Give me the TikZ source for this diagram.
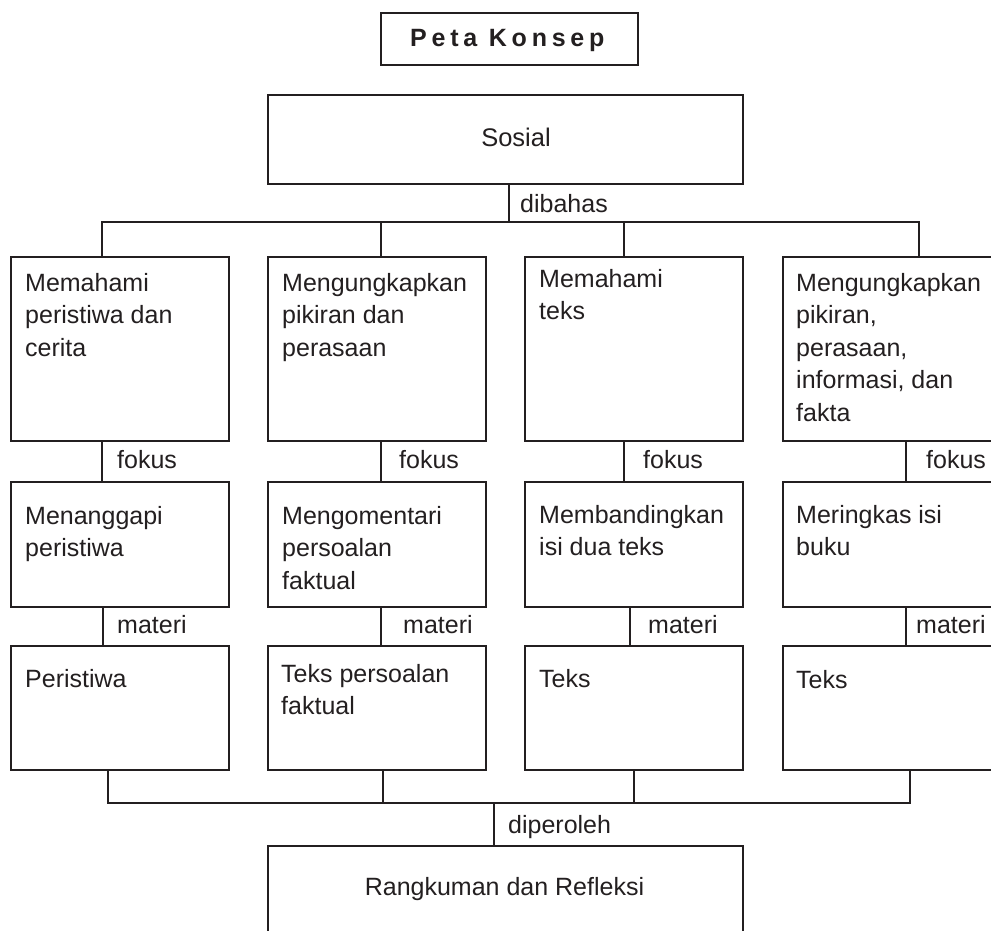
\documentclass[tikz,border=0pt]{standalone}
\usepackage{fontspec}
\setmainfont{Liberation Sans}
\newfontfamily\titlefont[LetterSpace=19]{Liberation Sans}
\usetikzlibrary{calc}
\definecolor{ink}{HTML}{231F20}
\begin{document}
\begin{tikzpicture}[x=1pt,y=-1pt,
  box/.style={draw=ink, line width=2.4pt, rectangle, inner sep=0pt, anchor=north west},
  txt/.style={anchor=north west, inner sep=0pt, align=left, font=\fontsize{25}{32.5}\selectfont, text=ink},
  lbl/.style={anchor=base west, inner sep=0pt, font=\fontsize{25}{30}\selectfont, text=ink},
  conn/.style={draw=ink, line width=1.6pt}]
\useasboundingbox (0,0) rectangle (991,931);
\clip (0,0) rectangle (991,931);
% title
\node[box, minimum width=257pt, minimum height=52pt] (title) at (380,12) {};
\node[anchor=base west, inner sep=0pt, text=ink, font=\titlefont\bfseries\fontsize{25}{28}\selectfont] (titletxt) at (410,47) {Peta Konsep};
% Sosial
\node[box, minimum width=475pt, minimum height=89pt] (sos) at (267,94) {};
\node[anchor=base, inner sep=0pt, text=ink, font=\fontsize{25.5}{30}\selectfont] (sostxt) at (516,147) {Sosial};
% row 1
\node[box, minimum width=218pt, minimum height=184pt] (a1) at (10,256) {};
\node[box, minimum width=218pt, minimum height=184pt] (a2) at (267,256) {};
\node[box, minimum width=218pt, minimum height=184pt] (a3) at (524,256) {};
\node[box, minimum width=218pt, minimum height=184pt] (a4) at (782,256) {};
\node[txt] (ta1) at (25,273) {Memahami\\peristiwa dan\\cerita};
\node[txt] (ta2) at (282,273) {Mengungkapkan\\pikiran dan\\perasaan};
\node[txt] (ta3) at (539,269) {Memahami\\teks};
\node[txt] (ta4) at (796,273) {Mengungkapkan\\pikiran,\\perasaan,\\informasi, dan\\fakta};
% row 2
\node[box, minimum width=218pt, minimum height=125pt] (b1) at (10,481) {};
\node[box, minimum width=218pt, minimum height=125pt] (b2) at (267,481) {};
\node[box, minimum width=218pt, minimum height=125pt] (b3) at (524,481) {};
\node[box, minimum width=218pt, minimum height=125pt] (b4) at (782,481) {};
\node[txt] (tb1) at (25,506) {Menanggapi\\peristiwa};
\node[txt] (tb2) at (282,506) {Mengomentari\\persoalan\\faktual};
\node[txt] (tb3) at (539,505) {Membandingkan\\isi dua teks};
\node[txt] (tb4) at (796,505) {Meringkas isi\\buku};
% row 3
\node[box, minimum width=218pt, minimum height=124pt] (c1) at (10,645) {};
\node[box, minimum width=218pt, minimum height=124pt] (c2) at (267,645) {};
\node[box, minimum width=218pt, minimum height=124pt] (c3) at (524,645) {};
\node[box, minimum width=218pt, minimum height=124pt] (c4) at (782,645) {};
\node[txt] (tc1) at (25,669) {Peristiwa};
\node[txt] (tc2) at (281,664) {Teks persoalan\\faktual};
\node[txt] (tc3) at (539,669) {Teks};
\node[txt] (tc4) at (796,670) {Teks};
% bottom
\node[box, minimum width=475pt, minimum height=130pt] (rk) at (267,845) {};
\node[anchor=base, inner sep=0pt, text=ink, font=\fontsize{25}{30}\selectfont] (rktxt) at (504.5,895) {Rangkuman dan Refleksi};
% connectors top
\coordinate (hs) at (509,222);
\coordinate (h1) at (102,222);
\coordinate (h2) at (381,222);
\coordinate (h3) at (624,222);
\coordinate (h4) at (919,222);
\draw[conn] (sos.south -| hs) -- (hs);
\draw[conn] (h1 |- a1.north) -- (h1) -- (h4) -- (h4 |- a4.north);
\draw[conn] (h2) -- (h2 |- a2.north);
\draw[conn] (h3) -- (h3 |- a3.north);
\node[lbl] (ldib) at (520,212) {dibahas};
% fokus
\coordinate (f1) at (102,0);
\coordinate (f2) at (381,0);
\coordinate (f3) at (624,0);
\coordinate (f4) at (906,0);
\draw[conn] (a1.south -| f1) -- (b1.north -| f1);
\draw[conn] (a2.south -| f2) -- (b2.north -| f2);
\draw[conn] (a3.south -| f3) -- (b3.north -| f3);
\draw[conn] (a4.south -| f4) -- (b4.north -| f4);
\node[lbl] (lf1) at (117,468) {fokus};
\node[lbl] (lf2) at (399,468) {fokus};
\node[lbl] (lf3) at (643,468) {fokus};
\node[lbl] (lf4) at (926,468) {fokus};
% materi
\coordinate (m1) at (103,0);
\coordinate (m2) at (381,0);
\coordinate (m3) at (630,0);
\coordinate (m4) at (906,0);
\draw[conn] (b1.south -| m1) -- (c1.north -| m1);
\draw[conn] (b2.south -| m2) -- (c2.north -| m2);
\draw[conn] (b3.south -| m3) -- (c3.north -| m3);
\draw[conn] (b4.south -| m4) -- (c4.north -| m4);
\node[lbl] (lm1) at (117,633) {materi};
\node[lbl] (lm2) at (403,633) {materi};
\node[lbl] (lm3) at (648,633) {materi};
\node[lbl] (lm4) at (916,633) {materi};
% bottom connectors
\coordinate (g1) at (108,803);
\coordinate (g2) at (383,803);
\coordinate (g3) at (634,803);
\coordinate (g4) at (910,803);
\coordinate (gs) at (494,803);
\draw[conn] (c1.south -| g1) -- (g1) -- (g4) -- (c4.south -| g4);
\draw[conn] (c2.south -| g2) -- (g2);
\draw[conn] (c3.south -| g3) -- (g3);
\draw[conn] (gs) -- (rk.north -| gs);
\node[lbl] (ldip) at (508,833) {diperoleh};
\end{tikzpicture}
\end{document}
